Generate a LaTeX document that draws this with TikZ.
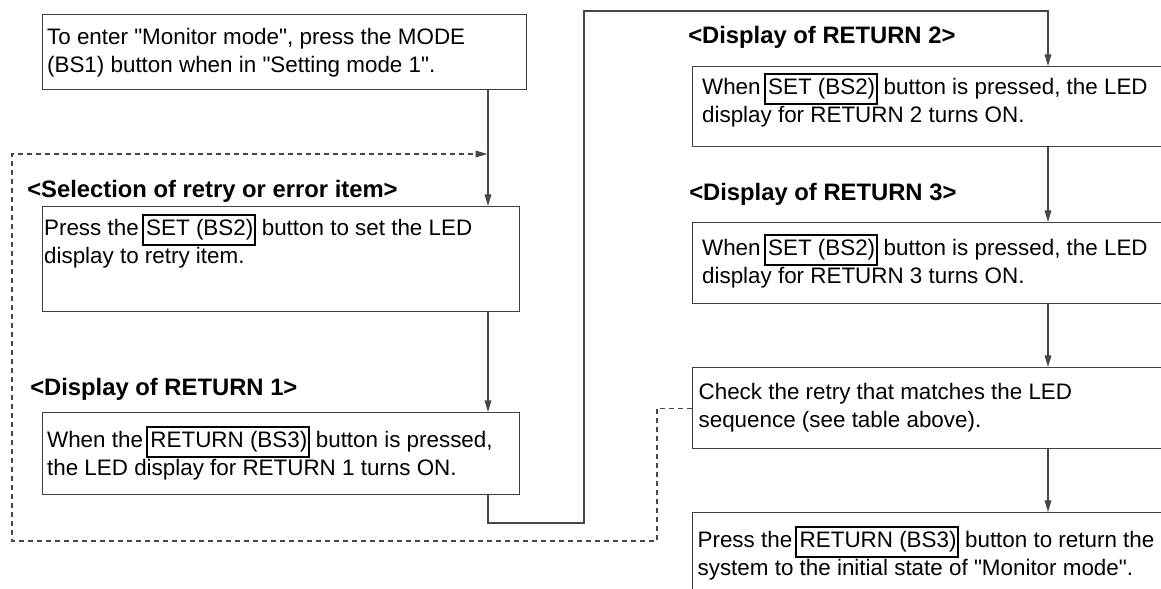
\documentclass[tikz,border=0pt]{standalone}
\usepackage{fontspec}
\setmainfont{Liberation Sans}
\usetikzlibrary{arrows.meta}
\newdimen\pxu \pxu=0.75pt
\newcommand\q{\textquotedbl}
\newcommand\btn[1]{\kern3\pxu{\setlength\fboxsep{0pt}\setlength\fboxrule{2\pxu}\fbox{\strut\kern2.5\pxu #1\kern0.3\pxu}}}
\newcommand\bx[5]{\parbox[c][#2\pxu][t]{#1\pxu}{\raggedright\leftskip=#3\pxu\relax\vspace*{#4\pxu}\strut #5}}
\begin{document}
\begin{tikzpicture}[x=0.75pt,y=-0.75pt,
  stepbox/.style={draw=black!75, line width=0.95pt, inner sep=0pt, anchor=north west, font=\fontsize{16.8}{21}\selectfont},
  head/.style={inner sep=0pt, anchor=base west, font=\fontsize{17.85}{21}\selectfont\bfseries},
  flow/.style={draw=black!72, line width=0.95pt},
  arr/.style={flow, -{Triangle[length=8.75pt,width=5pt]}},
  back/.style={draw=black!72, line width=0.8pt, dash pattern=on 3.75pt off 3pt, -{Triangle[length=8.75pt,width=5pt]}},
]
\useasboundingbox (0,0) rectangle (1161,589);
\clip (0,0) rectangle (1161,589);

\coordinate (cx) at (488,0);
\coordinate (rx) at (1048,0);

\node[stepbox] (b1) at (42,14) {\bx{484}{75}{4.5}{10.4}{To enter \q Monitor mode\q, press the MODE\\(BS1) button when in \q Setting mode 1\q.}};
\node[head] (h1) at (27,197) {<Selection of retry or error item>};
\node[stepbox] (b2) at (42,206) {\bx{477}{105}{1.5}{7.4}{Press the\btn{SET (BS2)} button to set the LED\\display to retry item.}};
\node[head] (h2) at (30,395) {<Display of RETURN 1>};
\node[stepbox] (b3) at (42,412) {\bx{477}{82}{4.5}{13.1}{When the\btn{RETURN (BS3)} button is pressed,\\the LED display for RETURN 1 turns ON.}};

\node[head] (h3) at (688,43) {<Display of RETURN 2>};
\node[stepbox] (b4) at (692,66) {\bx{490}{80}{9.5}{6.6}{When\btn{SET (BS2)} button is pressed, the LED\\display for RETURN 2 turns ON.}};
\node[head] (h4) at (689,200) {<Display of RETURN 3>};
\node[stepbox] (b5) at (692,222) {\bx{490}{81}{9.5}{11.6}{When\btn{SET (BS2)} button is pressed, the LED\\display for RETURN 3 turns ON.}};
\node[stepbox] (b6) at (692,367) {\bx{490}{81}{6}{12.6}{Check the retry that matches the LED\\sequence (see table above).}};
\node[stepbox] (b7) at (692,512) {\bx{490}{100}{5}{13.2}{Press the\btn{RETURN (BS3)} button to return the\\system to the initial state of \q Monitor mode\q.}};

\coordinate (j1) at (584,523);
\coordinate (j2) at (584,11);
\coordinate (d1) at (657,541);
\coordinate (d2) at (12,154);
\coordinate (dj) at (487.3,154);

\draw[arr] (b1.south -| cx) -- (b2.north -| cx);
\draw[arr] (b2.south -| cx) -- (b3.north -| cx);
\draw[arr] (b3.south -| cx) |- (j1) -- (j2) -| (b4.north -| rx);
\draw[arr] (b4.south -| rx) -- (b5.north -| rx);
\draw[arr] (b5.south -| rx) -- (b6.north -| rx);
\draw[arr] (b6.south -| rx) -- (b7.north -| rx);
\draw[back] (b6.west) -| (d1) -| (d2) -- (dj);
\end{tikzpicture}
\end{document}
